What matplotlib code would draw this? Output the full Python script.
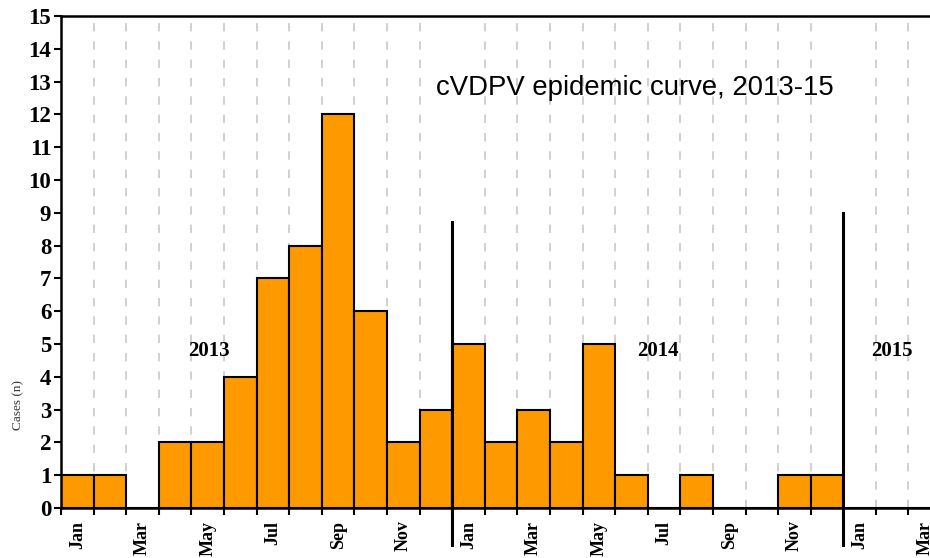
import numpy as np
import matplotlib.pyplot as plt
import matplotlib.transforms as mtransforms

# monthly cVDPV cases, Jan 2013 .. Mar 2015
months = ["Jan", "Feb", "Mar", "Apr", "May", "Jun",
          "Jul", "Aug", "Sep", "Oct", "Nov", "Dec"]
years = ["2013", "2014", "2015"]
cases_2013 = [1, 1, 0, 2, 2, 4, 7, 8, 12, 6, 2, 3]
cases_2014 = [5, 2, 3, 2, 5, 1, 0, 1, 0, 0, 1, 1]
cases_2015 = [0, 0, 0]
title = "cVDPV epidemic curve, 2013-15"

cases = cases_2013 + cases_2014 + cases_2015
n = len(cases)
x = np.arange(n) + 0.5
labels = [months[i % 12] if i % 2 == 0 else "" for i in range(n)]

serif = {"family": "Liberation Serif", "weight": "bold"}

fig = plt.figure(figsize=(9.3, 5.58), dpi=100)
ax = fig.add_axes([0.0656, 0.0896, 0.9344, 0.8817])

# dashed grid at each month boundary
for b in range(1, n):
    if b % 12 == 0:
        continue
    ax.axvline(b, color="#c8c8c8", linestyle=(0, (5, 6)), linewidth=1.2, zorder=0)

ax.bar(x, cases, width=1.0, color="#FF9900", edgecolor="black", linewidth=1.5, zorder=2)

# year separators
trans = mtransforms.blended_transform_factory(ax.transData, ax.transAxes)
sep_tops = [8.72, 8.99]
for k, top in zip([12, 24], sep_tops):
    ax.plot([k, k], [-0.075, top / 15.0], transform=trans, color="black",
            linewidth=2.2, clip_on=False, zorder=4)

# year labels
for yr, xc in zip(years, [4.55, 18.3, 25.5]):
    ax.text(xc, 4.8, yr, ha="center", va="center", fontsize=15, fontdict=serif)

ax.text(17.6, 12.8, title, fontsize=19.8, family="Liberation Sans", ha="center", va="center")

ax.set_ylim(0, 15)
ax.set_yticks(range(16))
ax.set_yticklabels([str(v) for v in range(16)], fontdict=serif, fontsize=16.5)
ax.set_xticks(np.arange(n + 1), minor=False)
ax.set_xticklabels([])
ax.set_xticks(x, minor=True)
ax.set_xticklabels(labels, minor=True, rotation=90, fontdict=serif, fontsize=13)
ax.set_xlim(0, 26.66)
ax.tick_params(axis="x", which="minor", length=0, pad=9)
ax.tick_params(axis="x", which="major", length=5, width=1.5, direction="out")
ax.tick_params(axis="y", length=5, width=1.5, direction="out", pad=2)

ax.spines["right"].set_visible(False)
for s in ["left", "bottom", "top"]:
    ax.spines[s].set_linewidth(1.8)

fig.text(0.02, 0.275, "Cases (n)", rotation=90, fontsize=9.5, family="Liberation Serif",
         ha="center", va="center", color="#333333")

fig.savefig("out.png", dpi=100)
